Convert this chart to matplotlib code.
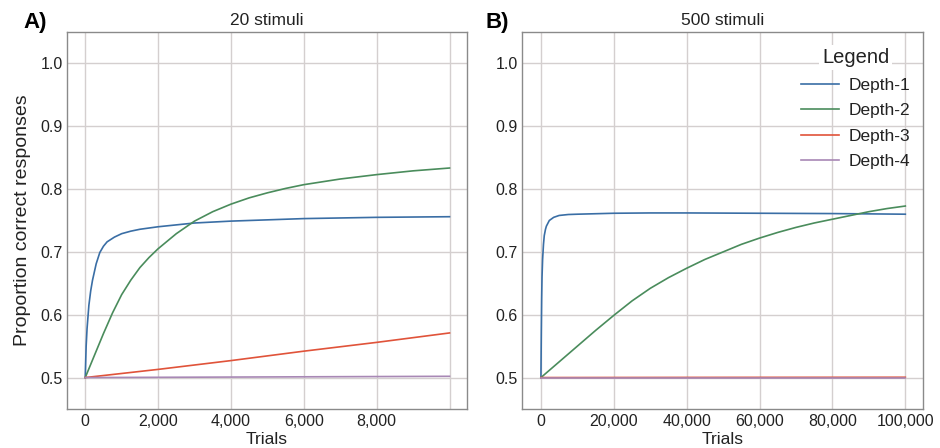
import matplotlib
matplotlib.use("Agg")
import matplotlib.pyplot as plt
import numpy as np

plt.rcParams['font.family'] = ['Liberation Sans', 'DejaVu Sans']

# ---------------- data ----------------
labels = ["Depth-1", "Depth-2", "Depth-3", "Depth-4"]
colors = ["#3a6ea5", "#4a8c5c", "#e0533a", "#a888b5"]

# Panel A: 20 stimuli
a_d1_x = [0, 25, 50, 100, 150, 200, 300, 400, 500, 600, 800, 1000, 1250, 1500, 2000, 2500, 3000, 4000, 5000, 6000, 7000, 8000, 9000, 10000]
a_d1_y = [0.5, 0.550, 0.578, 0.615, 0.638, 0.655, 0.681, 0.699, 0.709, 0.716, 0.7235, 0.729, 0.733, 0.736, 0.740, 0.743, 0.746, 0.749, 0.751, 0.753, 0.754, 0.755, 0.7555, 0.756]
a_d2_x = [0, 250, 500, 750, 1000, 1250, 1500, 1750, 2000, 2500, 3000, 3500, 4000, 4500, 5000, 5500, 6000, 7000, 8000, 9000, 10000]
a_d2_y = [0.5, 0.535, 0.570, 0.603, 0.632, 0.655, 0.675, 0.691, 0.705, 0.729, 0.749, 0.764, 0.776, 0.786, 0.794, 0.801, 0.807, 0.816, 0.823, 0.829, 0.8335]
a_d3_x = [0, 2000, 4000, 6000, 8000, 10000]
a_d3_y = [0.5, 0.513, 0.527, 0.542, 0.556, 0.571]
a_d4_x = [0, 5000, 10000]
a_d4_y = [0.5, 0.501, 0.502]

# Panel B: 500 stimuli
b_d1_x = [0, 100, 200, 300, 459, 700, 917, 1250, 1500, 2300, 3500, 5000, 7500, 10000, 20000, 30000, 40000, 60000, 80000, 100000]
b_d1_y = [0.5, 0.570, 0.625, 0.660, 0.688, 0.712, 0.726, 0.736, 0.741, 0.750, 0.755, 0.758, 0.7595, 0.760, 0.7615, 0.762, 0.762, 0.7615, 0.761, 0.760]
b_d2_x = [0, 5000, 10000, 15000, 20000, 25000, 30000, 35000, 40000, 45000, 50000, 55000, 60000, 65000, 70000, 75000, 80000, 85000, 90000, 95000, 100000]
b_d2_y = [0.5, 0.525, 0.550, 0.575, 0.599, 0.622, 0.642, 0.659, 0.674, 0.688, 0.700, 0.712, 0.722, 0.731, 0.739, 0.746, 0.752, 0.758, 0.764, 0.769, 0.773]
b_d3_x = [0, 50000, 100000]
b_d3_y = [0.5, 0.5003, 0.5005]
b_d4_x = [0, 50000, 100000]
b_d4_y = [0.5, 0.5, 0.5]

a_xticks = [0, 2000, 4000, 6000, 8000, 10000]
a_xticklabels = ["0", "2,000", "4,000", "6,000", "8,000", ""]
b_xticks = [0, 20000, 40000, 60000, 80000, 100000]
b_xticklabels = ["0", "20,000", "40,000", "60,000", "80,000", "100,000"]
yticks = [0.5, 0.6, 0.7, 0.8, 0.9, 1.0]
ytick_labels = ["0.5", "0.6", "0.7", "0.8", "0.9", "1.0"]

# ---------------- figure ----------------
fig = plt.figure(figsize=(9.4, 4.48), dpi=100)
axA = fig.add_axes([0.0713, 0.0871, 0.4255, 0.8415])
axB = fig.add_axes([0.5553, 0.0871, 0.4266, 0.8415])

TXT = "#222222"

def style(ax, xticks, xticklabels, xlim, title):
    ax.set_xlim(*xlim)
    ax.set_ylim(0.45, 1.05)
    ax.set_xticks(xticks)
    ax.set_xticklabels(xticklabels)
    ax.set_yticks(yticks)
    ax.set_yticklabels(ytick_labels)
    ax.grid(True, color="#d4cfcf", linewidth=1.0)
    ax.set_axisbelow(True)
    for s in ax.spines.values():
        s.set_color("#8a8a8a")
        s.set_linewidth(1.0)
    ax.tick_params(axis="y", length=0, labelsize=11.5, pad=3, colors=TXT)
    ax.tick_params(axis="x", length=0, labelsize=11.5, pad=3.5, colors=TXT)
    ax.set_xlabel("Trials", fontsize=12.5, labelpad=2, color=TXT)
    ax.set_title(title, fontsize=12.5, pad=5, color=TXT)

A_series = [(a_d1_x, a_d1_y), (a_d2_x, a_d2_y), (a_d3_x, a_d3_y), (a_d4_x, a_d4_y)]
B_series = [(b_d1_x, b_d1_y), (b_d2_x, b_d2_y), (b_d3_x, b_d3_y), (b_d4_x, b_d4_y)]

for (x, y), c, l in zip(A_series, colors, labels):
    axA.plot(x, y, color=c, linewidth=1.2, label=l)
for (x, y), c, l in zip(B_series, colors, labels):
    axB.plot(x, y, color=c, linewidth=1.2, label=l)

style(axA, a_xticks, a_xticklabels, (-500, 10480), "20 stimuli")
style(axB, b_xticks, b_xticklabels, (-5200, 104850), "500 stimuli")
axA.set_ylabel("Proportion correct responses", fontsize=14, labelpad=7, color=TXT)

leg = axB.legend(loc="upper right", bbox_to_anchor=(1.012, 1.003), frameon=False,
                 fontsize=12.5, title="Legend", title_fontsize=14.5,
                 handlelength=2.2, handletextpad=0.55, labelspacing=0.6,
                 borderpad=0.5)
for t in leg.get_texts():
    t.set_color(TXT)
leg.get_title().set_color(TXT)
leg.get_title().set_bbox(dict(facecolor="white", edgecolor="none", pad=2))

fig.text(0.0245, 0.938, "A)", fontsize=16, fontweight="bold", va="baseline", ha="left")
fig.text(0.516, 0.938, "B)", fontsize=16, fontweight="bold", va="baseline", ha="left")

fig.savefig("out.png", dpi=100)
